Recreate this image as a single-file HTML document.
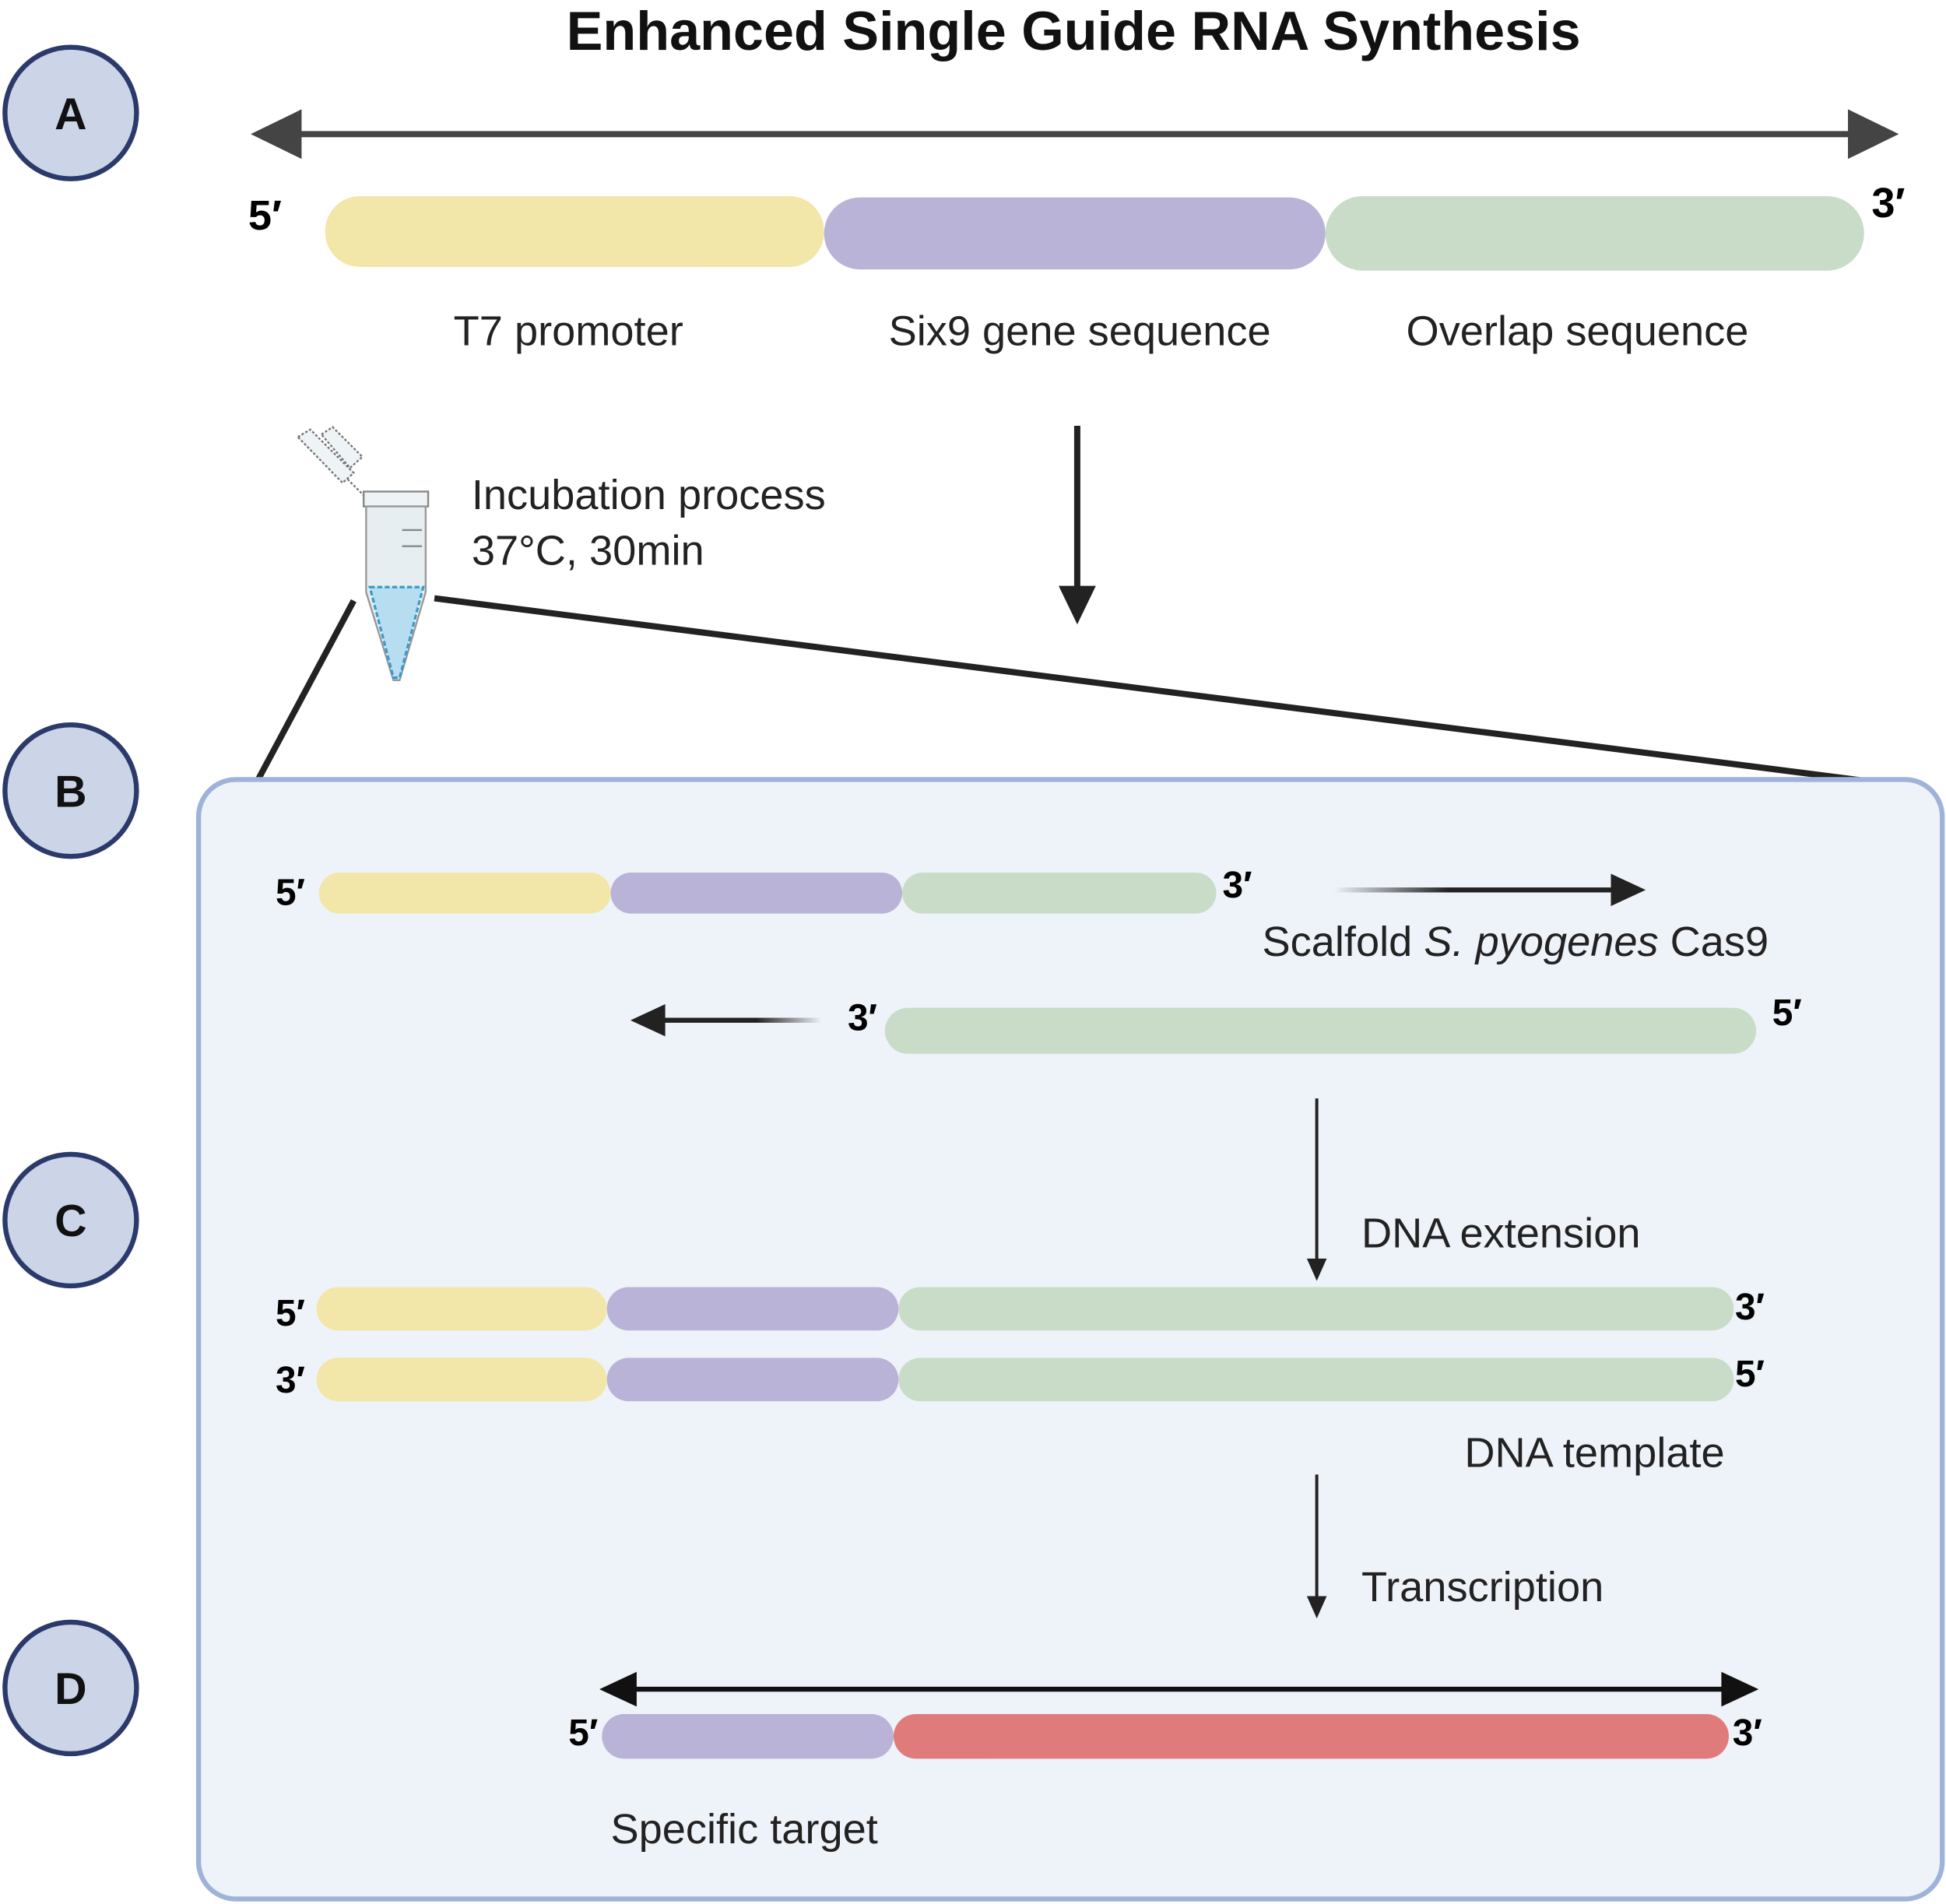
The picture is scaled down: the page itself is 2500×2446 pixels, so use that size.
<!DOCTYPE html>
<html><head><meta charset="utf-8"><style>
html,body{margin:0;padding:0;background:#fff;}
svg{display:block;}
text{font-family:"Liberation Sans",sans-serif;}
</style></head><body>
<svg width="2500" height="2446" viewBox="0 0 1568 1534" xmlns="http://www.w3.org/2000/svg">
<defs>
<linearGradient id="g1" x1="0" x2="1"><stop offset="0" stop-color="#222" stop-opacity="0"/><stop offset="0.4" stop-color="#222"/><stop offset="1" stop-color="#222"/></linearGradient>
<linearGradient id="g2" x1="1" x2="0"><stop offset="0" stop-color="#222" stop-opacity="0"/><stop offset="0.4" stop-color="#222"/><stop offset="1" stop-color="#222"/></linearGradient>
</defs>
<rect width="1568" height="1534" fill="#fff"/>
<text x="865" y="40" font-size="44" font-weight="bold" text-anchor="middle" fill="#111">Enhanced Single Guide RNA Synthesis</text>

<g fill="#ccd5e8" stroke="#2b3a6b" stroke-width="4">
<circle cx="57" cy="91" r="53"/><circle cx="57" cy="637" r="53"/><circle cx="57" cy="983" r="53"/><circle cx="57" cy="1360" r="53"/>
</g>
<g font-size="36" font-weight="bold" text-anchor="middle" fill="#111">
<text x="57" y="104">A</text><text x="57" y="650">B</text><text x="57" y="996">C</text><text x="57" y="1373">D</text>
</g>

<line x1="235" y1="108" x2="1495" y2="108" stroke="#444" stroke-width="5"/>
<polygon points="202,108 243,88 243,128" fill="#444"/>
<polygon points="1530,108 1489,88 1489,128" fill="#444"/>
<text x="200" y="185" font-size="34" font-weight="bold">5′</text>
<text x="1508" y="175" font-size="34" font-weight="bold">3′</text>
<rect x="262" y="158" width="402" height="57" rx="28" fill="#f2e6a8"/>
<rect x="664" y="159" width="404" height="58" rx="29" fill="#b9b3d8"/>
<rect x="1068" y="158" width="434" height="60" rx="30" fill="#c8dcc8"/>
<g font-size="34" text-anchor="middle" fill="#222">
<text x="458" y="278">T7 promoter</text>
<text x="870" y="278">Six9 gene sequence</text>
<text x="1271" y="278">Overlap sequence</text>
</g>

<line x1="868" y1="343" x2="868" y2="475" stroke="#222" stroke-width="5"/>
<polygon points="853,472 883,472 868,503" fill="#222"/>

<g stroke="#777" stroke-width="1.5" stroke-dasharray="2,1.5">
<path d="M240,352 L250,346 L285,381 L276,389 Z" fill="#eef3f5"/>
<path d="M259,350 L268,344 L292,368 L282,377 Z" fill="#eef3f5"/>
<line x1="280" y1="386" x2="293" y2="399"/>
</g>
<rect x="293" y="396" width="52" height="12" fill="#eef3f5" stroke="#888" stroke-width="1.5"/>
<path d="M295,408 L343,408 L343,477 L322,548 L317,548 L295,477 Z" fill="#e6eef1" stroke="#999" stroke-width="1.5"/>
<path d="M298,473 L341,473 L322,546 L317,546 Z" fill="#b6def0" stroke="#3a9acb" stroke-width="2" stroke-dasharray="4,2"/>
<line x1="324" y1="427" x2="340" y2="427" stroke="#888" stroke-width="1.5"/>
<line x1="324" y1="440" x2="340" y2="440" stroke="#888" stroke-width="1.5"/>
<text x="380" y="410" font-size="34" fill="#222">Incubation process</text>
<text x="380" y="455" font-size="34" fill="#222">37°C, 30min</text>

<line x1="285" y1="484" x2="208" y2="628" stroke="#222" stroke-width="5"/>
<line x1="350" y1="482" x2="1510" y2="630" stroke="#222" stroke-width="5"/>

<rect x="160" y="628" width="1405" height="902" rx="30" fill="#eef2f9" stroke="#9fb3d9" stroke-width="4"/>

<text x="222" y="729" font-size="30" font-weight="bold">5′</text>
<rect x="257" y="703" width="235" height="33" rx="16.5" fill="#f2e6a8"/>
<rect x="492" y="703" width="235" height="33" rx="16.5" fill="#b9b3d8"/>
<rect x="727" y="703" width="253" height="33" rx="16.5" fill="#c8dcc8"/>
<text x="985" y="723" font-size="30" font-weight="bold">3′</text>
<rect x="1075" y="715" width="230" height="4" fill="url(#g1)"/>
<polygon points="1326,717 1298,704 1298,730" fill="#222"/>
<text x="1017" y="770" font-size="34" fill="#222">Scalfold <tspan font-style="italic">S. pyogenes</tspan> Cas9</text>

<rect x="530" y="820" width="132" height="4" fill="url(#g2)"/>
<polygon points="508,822 536,809 536,835" fill="#222"/>
<text x="683" y="830" font-size="30" font-weight="bold">3′</text>
<rect x="713" y="812" width="702" height="37" rx="18.5" fill="#c8dcc8"/>
<text x="1428" y="826" font-size="30" font-weight="bold">5′</text>

<line x1="1061" y1="885" x2="1061" y2="1018" stroke="#222" stroke-width="2.5"/>
<polygon points="1053,1014 1069,1014 1061,1032" fill="#222"/>
<text x="1097" y="1005" font-size="34" fill="#222">DNA extension</text>

<text x="222" y="1068" font-size="30" font-weight="bold">5′</text>
<rect x="255" y="1037" width="234" height="35" rx="17.5" fill="#f2e6a8"/>
<rect x="489" y="1037" width="235" height="35" rx="17.5" fill="#b9b3d8"/>
<rect x="724" y="1037" width="673" height="35" rx="17.5" fill="#c8dcc8"/>
<text x="1398" y="1063" font-size="30" font-weight="bold">3′</text>
<text x="222" y="1122" font-size="30" font-weight="bold">3′</text>
<rect x="255" y="1094" width="234" height="35" rx="17.5" fill="#f2e6a8"/>
<rect x="489" y="1094" width="235" height="35" rx="17.5" fill="#b9b3d8"/>
<rect x="724" y="1094" width="673" height="35" rx="17.5" fill="#c8dcc8"/>
<text x="1398" y="1117" font-size="30" font-weight="bold">5′</text>
<text x="1180" y="1182" font-size="34" fill="#222">DNA template</text>

<line x1="1061" y1="1188" x2="1061" y2="1290" stroke="#222" stroke-width="2.5"/>
<polygon points="1053,1286 1069,1286 1061,1304" fill="#222"/>
<text x="1097" y="1290" font-size="34" fill="#222">Transcription</text>

<line x1="505" y1="1361" x2="1395" y2="1361" stroke="#111" stroke-width="4"/>
<polygon points="483,1361 513,1347 513,1375" fill="#111"/>
<polygon points="1417,1361 1387,1347 1387,1375" fill="#111"/>
<text x="458" y="1406" font-size="30" font-weight="bold">5′</text>
<rect x="485" y="1381" width="235" height="36" rx="18" fill="#b9b3d8"/>
<rect x="720" y="1381" width="673" height="36" rx="18" fill="#e07b7b"/>
<text x="1396" y="1406" font-size="30" font-weight="bold">3′</text>
<text x="492" y="1485" font-size="34" fill="#222">Specific target</text>
</svg>
</body></html>
